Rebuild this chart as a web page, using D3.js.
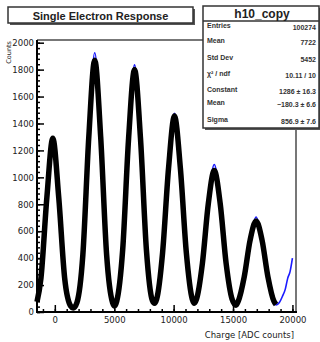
<!DOCTYPE html>
<html>
<head>
<meta charset="utf-8">
<script src="https://cdn.jsdelivr.net/npm/d3@7"></script>
<style>
  body { margin: 0; background: #fff; }
  svg { display: block; }
</style>
</head>
<body>
<div id="chart"></div>
<script>
// fit curve (black, thick)
const fitX = [-1500, -1170, -670, -170, 330, 830, 1330, 1550, 1860, 2360, 2860, 3360, 3860, 4360, 4860, 5040,
  5210, 5710, 6210, 6710, 7210, 7710, 8210, 8390, 8570, 9070, 9570, 10070, 10570, 11070, 11570, 11740,
  11920, 12420, 12920, 13420, 13920, 14420, 14920, 15250, 15440, 15940, 16440, 16940, 17440, 17940, 18440, 18620]
const fitY = [75, 250, 850, 1290, 850, 250, 45, 30, 70, 425, 1300, 1870, 1300, 425, 70, 45,
  80, 460, 1290, 1800, 1290, 460, 85, 65, 95, 440, 1065, 1455, 1065, 440, 95, 65,
  93, 360, 805, 1050, 805, 360, 95, 50, 80, 260, 535, 675, 535, 260, 80, 55]

// histogram (blue)
const histX = fitX.concat([18900, 19150, 19400, 19600, 19800, 20000])
const histY = [75, 250, 860, 1300, 860, 250, 45, 30, 70, 430, 1310, 1925, 1310, 430, 70, 45,
  80, 465, 1300, 1835, 1300, 465, 85, 65, 95, 445, 1075, 1475, 1075, 445, 95, 65,
  93, 365, 815, 1095, 815, 365, 95, 50, 80, 265, 545, 705, 545, 265, 80, 52,
  70, 115, 170, 250, 300, 400]

const yTicks = [0, 200, 400, 600, 800, 1000, 1200, 1400, 1600, 1800, 2000]
const xTicks = [0, 5000, 10000, 15000, 20000]

const statLabels = ["Entries", "Mean", "Std Dev", "\u03c7\u00b2 / ndf", "Constant", "Mean", "Sigma"]
const statValues = ["100274", "7722", "5452", "10.11 / 10", "1286 \u00b1 16.3", "\u2212180.3 \u00b1 6.6", "856.9 \u00b1 7.6"]
const statRowsY = [28, 43, 60, 76, 92, 105, 122]

const W = 320, H = 342
const svg = d3.select("#chart").append("svg").attr("width", W).attr("height", H)

const x = d3.scaleLinear().domain([-1500, 20300]).range([37, 296])
const y = d3.scaleLinear().domain([0, 2020]).range([312, 40])

// frame (grey top/right)
svg.append("line").attr("x1", 37).attr("x2", 205).attr("y1", 40).attr("y2", 40)
  .attr("stroke", "#777").attr("stroke-width", 2)
svg.append("line").attr("x1", 296).attr("x2", 296).attr("y1", 40).attr("y2", 312)
  .attr("stroke", "#777").attr("stroke-width", 2)

// histogram and fit
svg.append("path")
  .datum(histX.map((d, i) => [d, histY[i]]))
  .attr("fill", "none").attr("stroke", "#1a1aff").attr("stroke-width", 1.6)
  .attr("d", d3.line().x(d => x(d[0])).y(d => y(d[1])).curve(d3.curveMonotoneX))

svg.append("path")
  .datum(fitX.map((d, i) => [d, fitY[i]]))
  .attr("fill", "none").attr("stroke", "#000").attr("stroke-width", 5.5)
  .attr("stroke-linejoin", "round")
  .attr("d", d3.line().x(d => x(d[0])).y(d => y(d[1])).curve(d3.curveMonotoneX))

// axes
const font = "DejaVu Sans, sans-serif"

const yMinor = svg.append("g").attr("transform", "translate(37,0)")
  .call(d3.axisLeft(y).tickValues(d3.range(0, 2021, 40)).tickSize(-3).tickFormat(""))
const yAxis = svg.append("g").attr("transform", "translate(37,0)")
  .call(d3.axisLeft(y).tickValues(yTicks).tickSize(-7).tickPadding(3).tickFormat(d3.format("d")))
const xMinor = svg.append("g").attr("transform", "translate(0,312)")
  .call(d3.axisBottom(x).tickValues(d3.range(-1000, 20300, 1000)).tickSize(-3).tickFormat(""))
const xAxis = svg.append("g").attr("transform", "translate(0,312)")
  .call(d3.axisBottom(x).tickValues(xTicks).tickSize(-7).tickPadding(5).tickFormat(d3.format("d")))

for (const g of [yMinor, yAxis, xMinor, xAxis]) {
  g.select(".domain").remove()
  g.selectAll(".tick line").attr("stroke", "#000").attr("stroke-width", 1.5)
  g.selectAll("text").attr("font-family", font).attr("font-size", 8.5).attr("fill", "#222")
}
svg.append("line").attr("x1", 37).attr("x2", 37).attr("y1", 40).attr("y2", 313)
  .attr("stroke", "#000").attr("stroke-width", 2)
svg.append("line").attr("x1", 36).attr("x2", 297).attr("y1", 312).attr("y2", 312)
  .attr("stroke", "#000").attr("stroke-width", 2)

// axis titles
svg.append("text").attr("x", 294).attr("y", 338).attr("text-anchor", "end")
  .attr("font-family", font).attr("font-size", 8.5).attr("fill", "#222")
  .text("Charge [ADC counts]")
svg.append("text").attr("transform", "translate(11,41) rotate(-90)").attr("text-anchor", "end")
  .attr("font-family", font).attr("font-size", 6.5).attr("fill", "#222")
  .text("Counts")

// title box
svg.append("rect").attr("x", 10).attr("y", 9).attr("width", 185).attr("height", 16).attr("fill", "#555")
svg.append("rect").attr("x", 8).attr("y", 7).attr("width", 185).attr("height", 16)
  .attr("fill", "#fff").attr("stroke", "#333").attr("stroke-width", 1.5)
svg.append("text").attr("x", 100.5).attr("y", 19.5).attr("text-anchor", "middle")
  .attr("font-family", "Liberation Sans, Arial, sans-serif").attr("font-weight", "bold")
  .attr("font-size", 11).attr("fill", "#222").text("Single Electron Response")

// stats box
svg.append("rect").attr("x", 205).attr("y", 8).attr("width", 116).attr("height", 122).attr("fill", "#555")
svg.append("rect").attr("x", 203).attr("y", 6).attr("width", 116).attr("height", 122)
  .attr("fill", "#fff").attr("stroke", "#333").attr("stroke-width", 1.5)
svg.append("line").attr("x1", 203).attr("x2", 319).attr("y1", 21).attr("y2", 21)
  .attr("stroke", "#333").attr("stroke-width", 1.5)
svg.append("text").attr("x", 262).attr("y", 18).attr("text-anchor", "middle")
  .attr("font-family", "Liberation Sans, Arial, sans-serif").attr("font-weight", "bold")
  .attr("font-size", 12).attr("fill", "#222").text("h10_copy")

const stats = svg.append("g").attr("font-family", "Liberation Sans, Arial, sans-serif")
  .attr("font-size", 7).attr("font-weight", "bold").attr("fill", "#333")
statLabels.forEach((s, i) => {
  stats.append("text").attr("x", 207).attr("y", statRowsY[i]).text(s)
  stats.append("text").attr("x", 316).attr("y", statRowsY[i] + 2).attr("text-anchor", "end").text(statValues[i])
})
</script>
</body>
</html>
